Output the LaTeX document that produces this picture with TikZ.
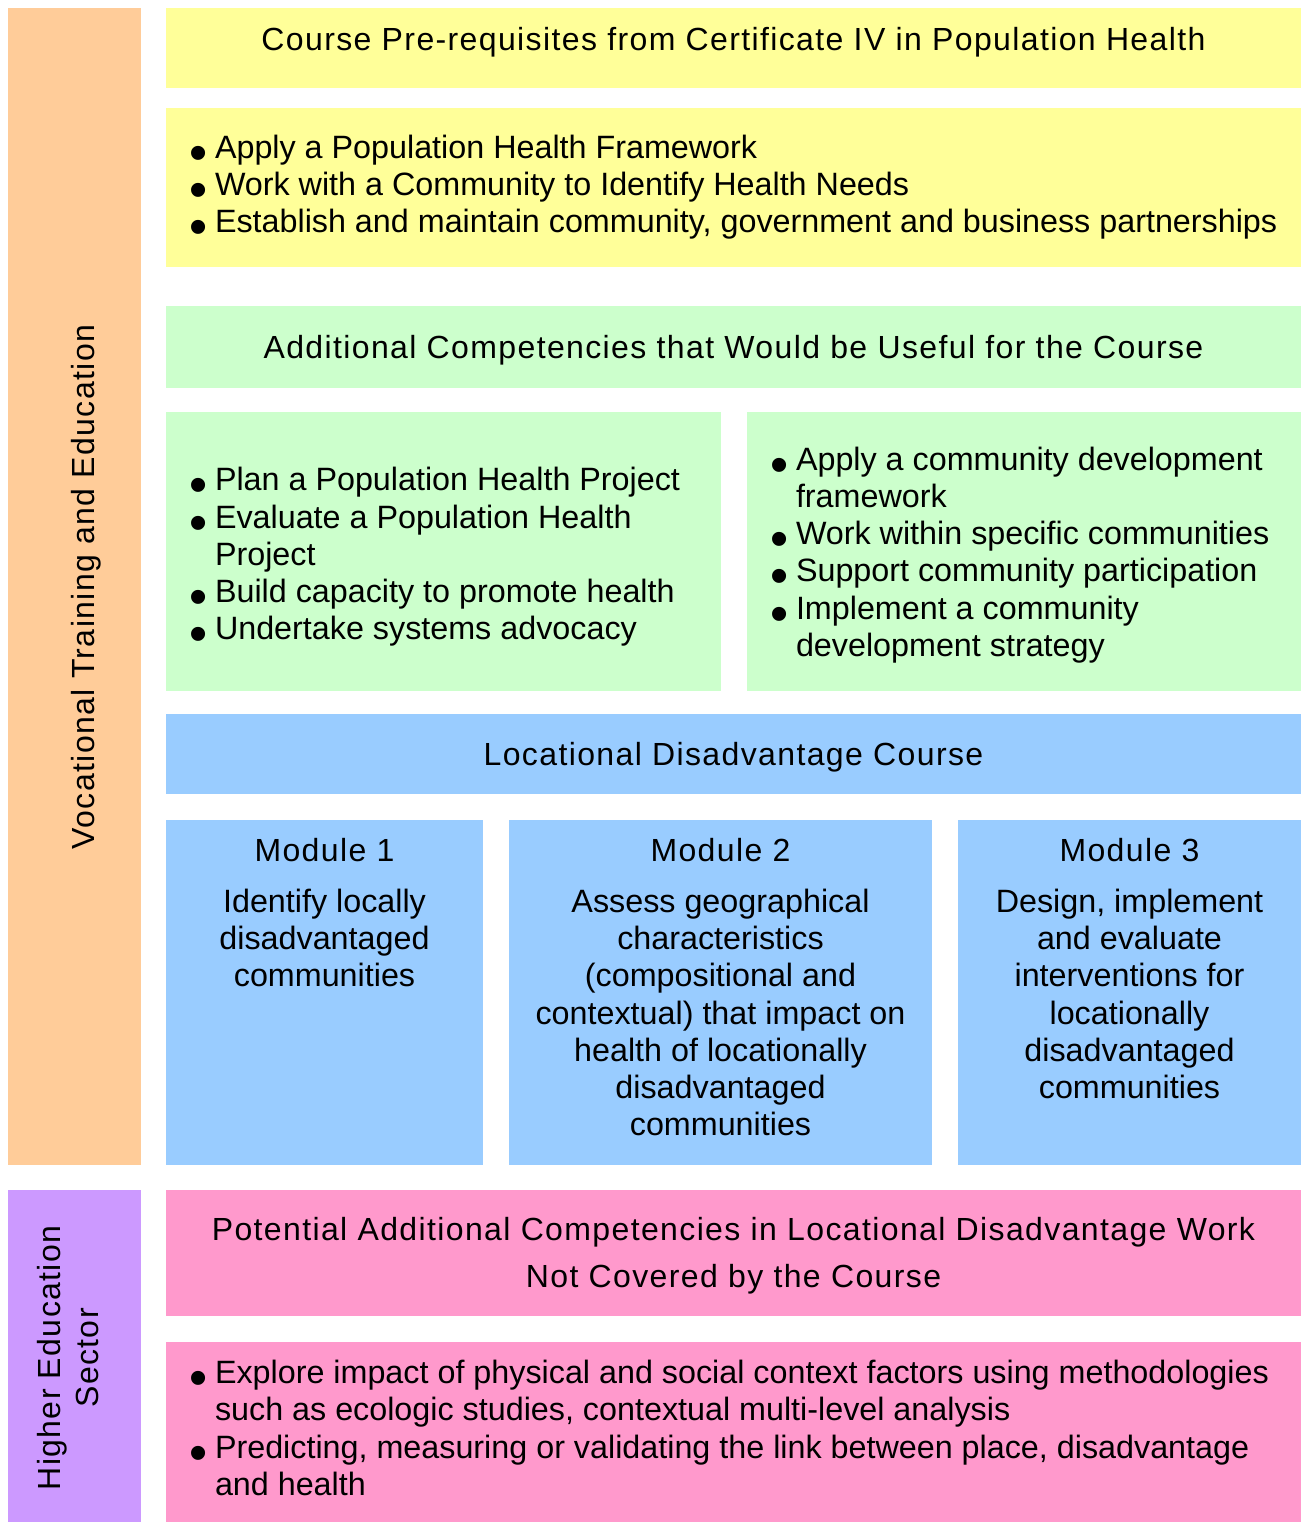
\documentclass[tikz,border=0pt]{standalone}
\usepackage{fontspec}
\setmainfont{Liberation Sans}
\definecolor{vetband}{HTML}{FFCC99}
\definecolor{heband}{HTML}{CC99FF}
\definecolor{prereq}{HTML}{FFFF99}
\definecolor{useful}{HTML}{CCFFCC}
\definecolor{course}{HTML}{99CCFF}
\definecolor{extra}{HTML}{FF99CC}
% a filled cell given by its corners: name, colour, x1, y1, x2, y2
\newcommand\cell[6]{%
  \node[fill=#2, draw=none, inner sep=0pt, outer sep=0pt,
        minimum width={(#5)-(#3)}, minimum height={(#6)-(#4)}]
    (#1) at ({((#3)+(#5))/2},{((#4)+(#6))/2}) {};}
\newcommand\blt{\makebox[26pt][l]{\smash{\raisebox{-12pt}{\scalebox{1.6}{•}}}}}
\newcommand\ind{\hspace*{26pt}}
\begin{document}
\begin{tikzpicture}[x=1pt, y=-1pt,
  txt/.style={font=\fontsize{32.3}{37.2}\selectfont, inner sep=0pt, outer sep=0pt},
  head/.style={txt, font=\fontsize{32}{37.2}\selectfont\addfontfeature{LetterSpace=4.3}},
  list/.style={txt, align=left, anchor=west},
  modtitle/.style={head, anchor=base},
  modbody/.style={txt, align=center, anchor=north}]
\useasboundingbox (0,0) rectangle (1301,1522);

% side bands
\cell{vet}{vetband}{8}{8}{141}{1165}
\cell{he}{heband}{8}{1190}{141}{1522}

% content cells
\cell{prehead}{prereq}{166}{8}{1301}{88}
\cell{prelist}{prereq}{166}{108}{1301}{267}
\cell{usehead}{useful}{166}{306}{1301}{388}
\cell{useleft}{useful}{166}{412}{721}{691}
\cell{useright}{useful}{747}{412}{1301}{691}
\cell{coursehead}{course}{166}{714}{1301}{794}
\cell{modA}{course}{166}{820}{483}{1165}
\cell{modB}{course}{509}{820}{932}{1165}
\cell{modC}{course}{958}{820}{1301}{1165}
\cell{extrahead}{extra}{166}{1190}{1301}{1316}
\cell{extralist}{extra}{166}{1342}{1301}{1522}

% band labels
\node[head, rotate=90] (vetlabel) at (86,587) {Vocational Training and Education};
\node[head, rotate=90, align=center] (helabel) at (68,1358) {Higher Education\\Sector};

% headings
\node[head] (pretitle) at ([yshift=6]prehead.center) {Course Pre-requisites from Certificate IV in Population Health};
\node[head] (usetitle) at ([yshift=-3]usehead.center) {Additional Competencies that Would be Useful for the Course};
\node[head] (coursetitle) at ([yshift=-3]coursehead.center) {Locational Disadvantage Course};
\node[head, align=center, font=\fontsize{32}{47}\selectfont\addfontfeature{LetterSpace=4.3}] (extratitle) at ([yshift=-3]extrahead.center)
  {Potential Additional Competencies in Locational Disadvantage Work\\Not Covered by the Course};

% bullet lists
\node[list] (pretext) at (189,187) {%
  \blt Apply a Population Health Framework\\
  \blt Work with a Community to Identify Health Needs\\
  \blt Establish and maintain community, government and business partnerships};
\node[list] (lefttext) at (189,557) {%
  \blt Plan a Population Health Project\\
  \blt Evaluate a Population Health\\
  \ind Project\\
  \blt Build capacity to promote health\\
  \blt Undertake systems advocacy};
\node[list] (righttext) at (770,555) {%
  \blt Apply a community development\\
  \ind framework\\
  \blt Work within specific communities\\
  \blt Support community participation\\
  \blt Implement a community\\
  \ind development strategy};
\node[list] (extratext) at (189,1428) {%
  \blt Explore impact of physical and social context factors using methodologies\\
  \ind such as ecologic studies, contextual multi-level analysis\\
  \blt Predicting, measuring or validating the link between place, disadvantage\\
  \ind and health};

% modules
\node[modtitle] (modAt) at (modA.north |- 0,861) {Module 1};
\node[modtitle] (modBt) at (modB.north |- 0,861) {Module 2};
\node[modtitle] (modCt) at (modC.north |- 0,861) {Module 3};
\node[modbody] (modAb) at ([yshift=-28]modAt.base) {Identify locally\\disadvantaged\\communities};
\node[modbody] (modBb) at ([yshift=-28]modBt.base) {Assess geographical\\characteristics\\(compositional and\\contextual) that impact on\\health of locationally\\disadvantaged\\communities};
\node[modbody] (modCb) at ([yshift=-28]modCt.base) {Design, implement\\and evaluate\\interventions for\\locationally\\disadvantaged\\communities};
\end{tikzpicture}
\end{document}
